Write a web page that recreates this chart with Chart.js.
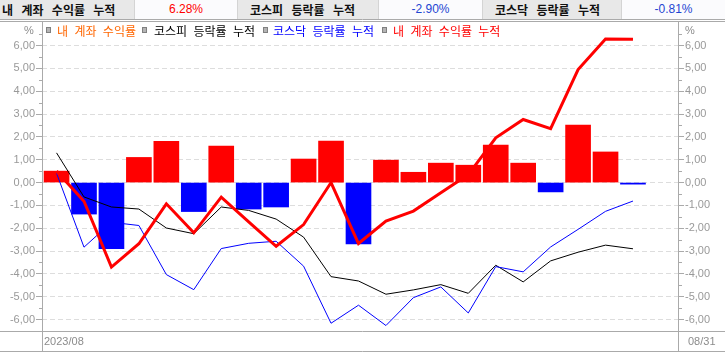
<!DOCTYPE html>
<html lang="ko">
<head>
<meta charset="utf-8">
<script src="https://cdn.jsdelivr.net/npm/chart.js@4.4.0/dist/chart.umd.min.js"></script>
<style>
  html, body { margin: 0; padding: 0; background: #fff; }
  #wrap { position: relative; width: 725px; height: 352px; overflow: hidden; font-family: "Noto Sans CJK KR", sans-serif; }
  #chart { position: absolute; left: 0; top: 0; }
  .cell { position: absolute; top: 0; height: 19px; line-height: 19px; font-size: 12px; white-space: nowrap; box-sizing: border-box; border-right: 1px solid #d4d4d4; }
  .lab { background: #e8e8e8; font-weight: bold; color: #111; word-spacing: 5px; }
  .val { background: #fbfbfd; text-align: center; font-family: "Liberation Sans", Arial, sans-serif; }
  .lg { position: absolute; top: 23px; line-height: 16px; font-size: 12px; white-space: nowrap; word-spacing: 3px; }
  .mk { position: absolute; top: 27px; width: 5px; height: 6px; box-sizing: border-box; background: #b4b4b4; border: 1px solid #808080; }
  .ax { position: absolute; font-family: "Liberation Sans", Arial, sans-serif; font-size: 11px; color: #8c8c8c; line-height: 14px; white-space: nowrap; }
</style>
</head>
<body>
<div id="wrap">
  <canvas id="chart" width="725" height="352"></canvas>

  <div class="cell lab" style="left:0;width:135px;padding-left:2px;">내 계좌 수익률 누적</div>
  <div class="cell val" id="vMy" style="left:135px;width:103px;color:#ff0000;"></div>
  <div class="cell lab" style="left:238px;width:141px;padding-left:12px;">코스피 등락률 누적</div>
  <div class="cell val" id="vKospi" style="left:379px;width:104px;color:#1e46d2;"></div>
  <div class="cell lab" style="left:483px;width:139px;padding-left:12px;">코스닥 등락률 누적</div>
  <div class="cell val" id="vKosdaq" style="left:622px;width:103px;color:#1e46d2;border-right:none;"></div>

  <div class="mk" style="left:46px;"></div>
  <div class="lg" style="left:57px;color:#ff6600;">내 계좌 수익률</div>
  <div class="mk" style="left:142px;"></div>
  <div class="lg" style="left:154px;color:#000000;">코스피 등락률 누적</div>
  <div class="mk" style="left:263px;"></div>
  <div class="lg" style="left:273px;color:#0000ff;">코스닥 등락률 누적</div>
  <div class="mk" style="left:382px;"></div>
  <div class="lg" style="left:393px;color:#ff0000;">내 계좌 수익률 누적</div>

  <div class="ax" style="left:24px;top:23px;">%</div>
  <div class="ax" style="left:685px;top:23px;">%</div>
  <div class="ax" style="left:44px;top:334px;">2023/08</div>
  <div class="ax" style="left:688px;top:334px;">08/31</div>
</div>

<script>
// 2023년 8월 거래일
const dates = ['08/01','08/02','08/03','08/04','08/07','08/08','08/09','08/10','08/11','08/14','08/16',
               '08/17','08/18','08/21','08/22','08/23','08/24','08/25','08/28','08/29','08/30','08/31'];

// 내 계좌 일간 수익률 (막대)
const daily  = [0.50, -1.38, -2.90, 1.10, 1.81, -1.27, 1.60, -1.16, -1.07, 1.03, 1.82,
                -2.69, 0.98, 0.45, 0.85, 0.76, 1.64, 0.85, -0.41, 2.52, 1.34, -0.07];
// 누적 (선)
const myCum  = [0.50, -0.82, -3.70, -2.68, -0.93, -2.20, -0.64, -1.72, -2.79, -1.84, 0.00,
                -2.67, -1.69, -1.25, -0.45, 0.35, 1.96, 2.76, 2.36, 4.95, 6.29, 6.28];
const kospi  = [1.30, -0.63, -1.07, -1.16, -1.99, -2.24, -1.07, -1.22, -1.60, -2.39, -4.12,
                -4.31, -4.89, -4.70, -4.47, -4.85, -3.62, -4.35, -3.43, -3.05, -2.74, -2.90];
const kosdaq = [0.41, -2.83, -1.74, -1.88, -4.03, -4.69, -2.89, -2.66, -2.57, -3.66, -6.16,
                -5.37, -6.26, -5.04, -4.57, -5.71, -3.68, -3.91, -2.82, -2.05, -1.26, -0.81];

// y축 눈금 (0.5 간격, 라벨은 정수만)
const yTicks = [];
for (let v = -6.5; v <= 6.5; v += 0.5) yTicks.push(v);

document.getElementById('vMy').textContent = myCum[myCum.length - 1].toFixed(2) + '%';
document.getElementById('vKospi').textContent = kospi[kospi.length - 1].toFixed(2) + '%';
document.getElementById('vKosdaq').textContent = kosdaq[kosdaq.length - 1].toFixed(2) + '%';

const pts = arr => arr.map((v, i) => ({ x: i, y: v }));
const isMajor = v => Number.isInteger(v) && Math.abs(v) <= 6;

const setTicks = scale => { scale.ticks = yTicks.map(v => ({ value: v })); };
const tickLabel = v => isMajor(v) ? v.toFixed(2).replace('.', ',') : '';

const yCommon = {
  min: -6.5,
  max: 7.03,
  afterBuildTicks: setTicks,
  ticks: {
    autoSkip: false,
    padding: 1,
    color: '#999999',
    font: { family: 'Liberation Sans', size: 11 },
    callback: tickLabel
  },
  border: { display: false, dash: [5, 3] }
};

const framePlugin = {
  id: 'frame',
  afterDraw(chart) {
    const ctx = chart.ctx;
    const y = chart.scales.y;
    ctx.save();
    ctx.strokeStyle = '#aaaaaa';
    ctx.lineWidth = 1;
    ctx.beginPath();
    ctx.moveTo(0, 19.5); ctx.lineTo(725, 19.5);
    ctx.moveTo(0, 21.5); ctx.lineTo(725, 21.5);
    ctx.moveTo(0, 331.5); ctx.lineTo(725, 331.5);
    ctx.moveTo(0, 351.5); ctx.lineTo(725, 351.5);
    ctx.moveTo(42.5, 21); ctx.lineTo(42.5, 352);
    ctx.moveTo(678.5, 21); ctx.lineTo(678.5, 352);
    // 보조 눈금
    yTicks.forEach(v => {
      if (Number.isInteger(v)) return;
      const p = Math.round(y.getPixelForValue(v)) + 0.5;
      ctx.moveTo(39, p); ctx.lineTo(42, p);
      ctx.moveTo(679, p); ctx.lineTo(682, p);
    });
    ctx.stroke();
    ctx.restore();
  }
};

new Chart(document.getElementById('chart'), {
  type: 'bar',
  data: {
    labels: dates,
    datasets: [
      { type: 'line', label: '내 계좌 수익률 누적', data: pts(myCum), borderColor: '#ff0000',
        borderWidth: 3, pointRadius: 0, tension: 0, order: 1 },
      { type: 'line', label: '코스닥 등락률 누적', data: pts(kosdaq), borderColor: '#0000ff',
        borderWidth: 1, pointRadius: 0, tension: 0, order: 2 },
      { type: 'line', label: '코스피 등락률 누적', data: pts(kospi), borderColor: '#000000',
        borderWidth: 1, pointRadius: 0, tension: 0, order: 3 },
      { type: 'bar', label: '내 계좌 수익률', data: pts(daily),
        backgroundColor: daily.map(v => v >= 0 ? '#ff0000' : '#0000ff'),
        borderWidth: 0, barThickness: 25, order: 4 }
    ]
  },
  options: {
    responsive: false,
    animation: false,
    devicePixelRatio: 1,
    events: [],
    layout: { padding: { top: 22, left: 0, right: 0, bottom: 0 } },
    plugins: { legend: { display: false }, tooltip: { enabled: false } },
    scales: {
      x: {
        type: 'linear',
        offset: false,
        min: -0.53,
        max: 22.64,
        ticks: { display: false },
        grid: { display: false },
        border: { display: false },
        afterFit(s) { s.height = 21; }
      },
      y: Object.assign({}, yCommon, {
        position: 'left',
        afterFit(s) { s.width = 42; },
        grid: {
          color: c => isMajor(c.tick.value) ? '#dddddd' : 'rgba(0,0,0,0)',
          tickColor: c => isMajor(c.tick.value) ? '#aaaaaa' : 'rgba(0,0,0,0)',
          tickLength: 6
        }
      }),
      y2: Object.assign({}, yCommon, {
        position: 'right',
        afterFit(s) { s.width = 47; },
        grid: {
          drawOnChartArea: false,
          tickColor: c => isMajor(c.tick.value) ? '#aaaaaa' : 'rgba(0,0,0,0)',
          tickLength: 6
        }
      })
    }
  },
  plugins: [framePlugin]
});
</script>
</body>
</html>
